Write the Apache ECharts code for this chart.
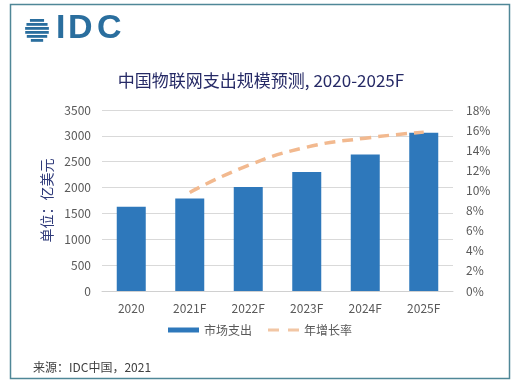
<!DOCTYPE html>
<html><head><meta charset="utf-8">
<script src="https://cdn.jsdelivr.net/npm/echarts@6/dist/echarts.min.js"></script>
<style>html,body{margin:0;padding:0;background:#fff}#c{width:520px;height:382px}</style>
</head><body><div id="c"></div>
<script>
const categories = ['2020', '2021F', '2022F', '2023F', '2024F', '2025F'];
const spending = [1630, 1790, 2010, 2300, 2640, 3060];
const growth = ['-', 9.8, 12.5, 14.3, 15.2, 15.8];
const leftTicks = { min: 0, max: 3500, interval: 500 };
const rightTicks = { min: 0, max: 18, interval: 2 };
const titleText = '中国物联网支出规模预测, 2020-2025F';
const unitText = '单位：亿美元';
const sourceText = '来源：IDC中国，2021';
const seriesNames = ['市场支出', '年增长率'];

const font = '"Noto Sans CJK SC", "Open Sans", sans-serif';
const chart = echarts.init(document.getElementById('c'), null, { renderer: 'canvas' });

// logo stripes
const stripes = [];
const cx = 37, cy = 30, r = 12;
for (let i = 0; i < 6; i++) {
  const y0 = cy - r + 1 + i * 4;
  const dy = Math.abs(y0 + 1.3 - cy);
  const hw = Math.sqrt(Math.max(r * r - dy * dy, 0));
  stripes.push({ type: 'rect', shape: { x: cx - hw, y: y0, width: hw * 2, height: 2.8 }, style: { fill: '#2a6e9e' } });
}

chart.setOption({
  backgroundColor: '#ffffff',
  animation: false,
  textStyle: { fontFamily: font },
  title: {
    text: titleText, left: 256, top: 67, textAlign: 'center',
    textStyle: { fontSize: 17, fontWeight: 'normal', color: '#262a66', fontFamily: font }
  },
  grid: { left: 102, right: 67, top: 110, bottom: 91 },
  legend: {
    bottom: 41, left: 'center', itemGap: 16, itemWidth: 31, itemHeight: 5,
    textStyle: { fontSize: 12, color: '#595959', fontFamily: font },
    data: [
      { name: seriesNames[0], icon: 'rect' },
      { name: seriesNames[1], icon: 'path://M0,0h11v3h-11z M20,0h11v3h-11z', itemStyle: { color: '#f2c6a4' } }
    ]
  },
  xAxis: {
    type: 'category', data: categories,
    axisTick: { show: false },
    axisLine: { lineStyle: { color: '#d0d0d0', width: 1 } },
    axisLabel: { color: '#595959', fontSize: 12, margin: 11, fontFamily: font }
  },
  yAxis: [
    {
      type: 'value', min: leftTicks.min, max: leftTicks.max, interval: leftTicks.interval,
      name: unitText, nameLocation: 'middle', nameGap: 48, nameRotate: 90,
      nameTextStyle: { color: '#2f3a7a', fontSize: 14, fontFamily: font },
      axisLine: { show: false }, axisTick: { show: false },
      axisLabel: { color: '#595959', fontSize: 12, margin: 11, fontFamily: font, formatter: v => String(v) },
      splitLine: { lineStyle: { color: '#d9d9d9', width: 1 } }
    },
    {
      type: 'value', min: rightTicks.min, max: rightTicks.max, interval: rightTicks.interval,
      axisLine: { show: false }, axisTick: { show: false },
      axisLabel: { color: '#595959', fontSize: 12, margin: 13, formatter: '{value}%', fontFamily: font },
      splitLine: { show: false }
    }
  ],
  series: [
    {
      name: seriesNames[0], type: 'bar', data: spending, barWidth: 29,
      itemStyle: { color: '#2e78bb' }
    },
    {
      name: seriesNames[1], type: 'line', yAxisIndex: 1, data: growth, smooth: true,
      showSymbol: false, symbol: 'none',
      lineStyle: { color: '#f2b98f', width: 3.5, type: [11, 7] },
      itemStyle: { color: '#f2b98f' }
    }
  ],
  graphic: [
    { type: 'rect', shape: { x: 10.5, y: 4.5, width: 499, height: 374 }, style: { fill: 'none', stroke: '#4f8797', lineWidth: 1.5 }, silent: true, z: 10 },
    { type: 'group', children: stripes },
    { type: 'text', left: 56, top: 12, style: { text: 'I', fontSize: 34, fontWeight: 'bold', fill: '#2a6e9e', fontFamily: '"Liberation Sans", sans-serif' } },
    { type: 'text', left: 68, top: 12, style: { text: 'D', fontSize: 34, fontWeight: 'bold', fill: '#2a6e9e', fontFamily: '"Liberation Sans", sans-serif' } },
    { type: 'text', left: 97, top: 12, style: { text: 'C', fontSize: 34, fontWeight: 'bold', fill: '#2a6e9e', fontFamily: '"Liberation Sans", sans-serif' } },
    { type: 'text', left: 33, top: 361, style: { text: sourceText, fontSize: 12, fill: '#404040', fontFamily: font } }
  ]
});
</script></body></html>
